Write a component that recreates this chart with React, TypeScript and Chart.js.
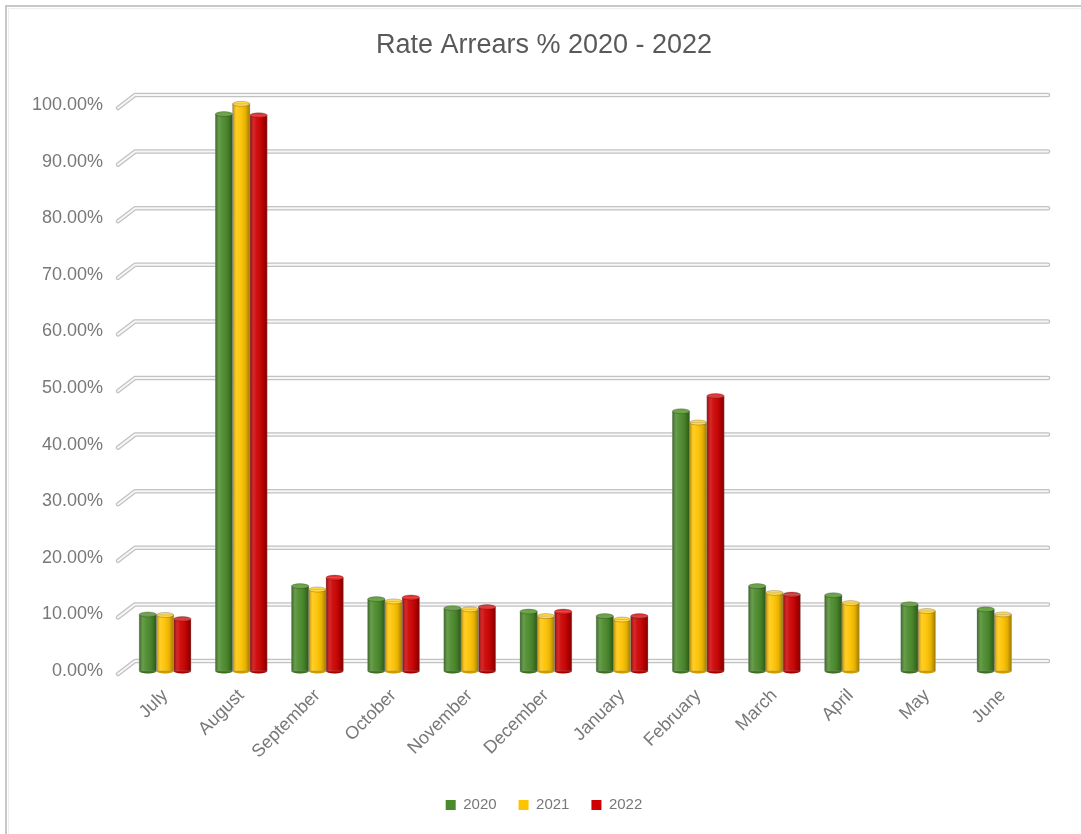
import React, { useEffect, useRef } from "react";
import { Chart, registerables } from "chart.js";

Chart.register(...registerables);

const months = ["July", "August", "September", "October", "November", "December", "January", "February", "March", "April", "May", "June"];
const values2020 = [10.0, 98.4, 15.0, 12.7, 11.1, 10.5, 9.7, 45.9, 15.0, 13.4, 11.8, 10.9];
const values2021 = [9.9, 100.2, 14.4, 12.3, 10.9, 9.7, 9.1, 43.9, 13.8, 12.0, 10.6, 10.0];
const values2022 = [9.2, 98.2, 16.5, 13.0, 11.3, 10.5, 9.7, 48.6, 13.5, null, null, null];
const seriesNames = ["2020", "2021", "2022"];
const seriesColors = ["#4a8a2a", "#ffc400", "#cc0000"];
const capColors = ["#67a444", "#ffd84d", "#e03030"];
const yTickValues = [0, 10, 20, 30, 40, 50, 60, 70, 80, 90, 100];
const titleText = "Rate Arrears % 2020 - 2022";

const FONT = "'Liberation Sans', Arial, sans-serif";
const TEXT_GRAY = "#787878";

const framePlugin = {
  id: "frame",
  beforeDraw(chart: any) {
    const { ctx, width, height } = chart;
    ctx.save();
    ctx.fillStyle = "#ffffff";
    ctx.fillRect(0, 0, width, height);
    ctx.strokeStyle = "#c8c8c8";
    ctx.lineWidth = 2;
    ctx.strokeRect(6, 6, width + 20, height + 20);
    ctx.strokeStyle = "#eeeeee";
    ctx.lineWidth = 1;
    ctx.strokeRect(8.5, 8.5, width + 20, height + 20);
    ctx.restore();
  },
};

const shelfPlugin = {
  id: "shelves",
  beforeDatasetsDraw(chart: any) {
    const { ctx, chartArea } = chart;
    const yScale = chart.scales.y;
    ctx.save();
    ctx.lineCap = "round";
    ctx.lineJoin = "round";
    yTickValues.forEach((v) => {
      const y = yScale.getPixelForValue(v);
      const path = () => {
        ctx.beginPath();
        ctx.moveTo(chartArea.left - 9, y + 3);
        ctx.lineTo(chartArea.left + 8, y - 10);
        ctx.lineTo(chartArea.right + 7, y - 10);
      };
      path();
      ctx.strokeStyle = "#c2c2c2";
      ctx.lineWidth = 4.5;
      ctx.stroke();
      path();
      ctx.strokeStyle = "#f6f6f6";
      ctx.lineWidth = 2;
      ctx.stroke();
    });
    ctx.restore();
  },
};

const cylinderPlugin = {
  id: "cylinders",
  afterDatasetsDraw(chart: any) {
    const { ctx } = chart;
    ctx.save();
    chart.data.datasets.forEach((ds: any, i: number) => {
      const meta = chart.getDatasetMeta(i);
      meta.data.forEach((bar: any, j: number) => {
        if (ds.data[j] === null || ds.data[j] === undefined) return;
        const { x, y, base, width } = bar.getProps(["x", "y", "base", "width"], true);
        const left = x - width / 2;
        const g = ctx.createLinearGradient(left, 0, left + width, 0);
        g.addColorStop(0, "rgba(0,0,0,0.3)");
        g.addColorStop(0.22, "rgba(255,255,255,0.16)");
        g.addColorStop(0.4, "rgba(255,255,255,0.06)");
        g.addColorStop(0.75, "rgba(0,0,0,0.1)");
        g.addColorStop(1, "rgba(0,0,0,0.38)");
        ctx.fillStyle = g;
        ctx.fillRect(left, y, width, base - y);
        ctx.beginPath();
        ctx.ellipse(x, base, width / 2, 2.5, 0, 0, Math.PI);
        ctx.fillStyle = seriesColors[i];
        ctx.fill();
        ctx.fillStyle = "rgba(0,0,0,0.2)";
        ctx.fill();
        ctx.beginPath();
        ctx.ellipse(x, y, width / 2, 2.5, 0, 0, Math.PI * 2);
        ctx.fillStyle = capColors[i];
        ctx.fill();
        ctx.strokeStyle = "rgba(0,0,0,0.25)";
        ctx.lineWidth = 0.8;
        ctx.stroke();
        ctx.strokeStyle = "rgba(150,150,150,0.45)";
        ctx.lineWidth = 0.8;
        ctx.strokeRect(left, y, width, base - y);
      });
    });
    ctx.restore();
  },
};

export default function App() {
  const canvasRef = useRef<HTMLCanvasElement | null>(null);

  useEffect(() => {
    const canvas = canvasRef.current;
    if (!canvas) return;
    const seriesValues = [values2020, values2021, values2022];
    const chart = new Chart(canvas, {
      type: "bar",
      data: {
        labels: months,
        datasets: seriesNames.map((name, i) => ({
          label: name,
          data: seriesValues[i],
          backgroundColor: seriesColors[i],
          borderWidth: 0,
          categoryPercentage: 0.68,
          barPercentage: 1.0,
          clip: false as any,
        })),
      },
      options: {
        responsive: false,
        animation: false,
        layout: { padding: { left: 7, right: 0, top: 0, bottom: 11.5 } },
        plugins: {
          title: {
            display: true,
            text: titleText,
            color: "#595959",
            font: { family: FONT, size: 27, weight: "normal" as any },
            padding: { top: 29, bottom: 43.6 },
          },
          legend: {
            position: "bottom",
            labels: {
              boxWidth: 10,
              boxHeight: 10,
              color: TEXT_GRAY,
              font: { family: FONT, size: 15 },
              padding: 22,
            },
          },
          tooltip: { enabled: false },
        },
        scales: {
          x: {
            grid: { display: false },
            border: { display: false },
            ticks: {
              minRotation: 45,
              maxRotation: 45,
              color: TEXT_GRAY,
              font: { family: FONT, size: 18 },
              padding: 6,
            },
            afterFit: (s: any) => {
              s.height = 104.5;
            },
          },
          y: {
            min: 0,
            max: 100,
            grid: { display: false },
            border: { display: false },
            ticks: {
              stepSize: 10,
              padding: 16,
              color: TEXT_GRAY,
              font: { family: FONT, size: 18 },
              callback: (v: any) => Number(v).toFixed(2) + "%",
            },
            afterFit: (s: any) => {
              s.width = 120;
            },
          },
          yPad: {
            position: "right",
            display: true,
            grid: { display: false },
            border: { display: false },
            ticks: { display: false },
            afterFit: (s: any) => {
              s.width = 40;
            },
          },
        },
      },
      plugins: [framePlugin, shelfPlugin, cylinderPlugin],
    });
    return () => chart.destroy();
  }, []);

  return (
    <div style={{ position: "absolute", left: 0, top: 0, width: 1081, height: 834, background: "#fff" }}>
      <canvas ref={canvasRef} width={1081} height={834} style={{ display: "block", width: 1081, height: 834 }} />
    </div>
  );
}
